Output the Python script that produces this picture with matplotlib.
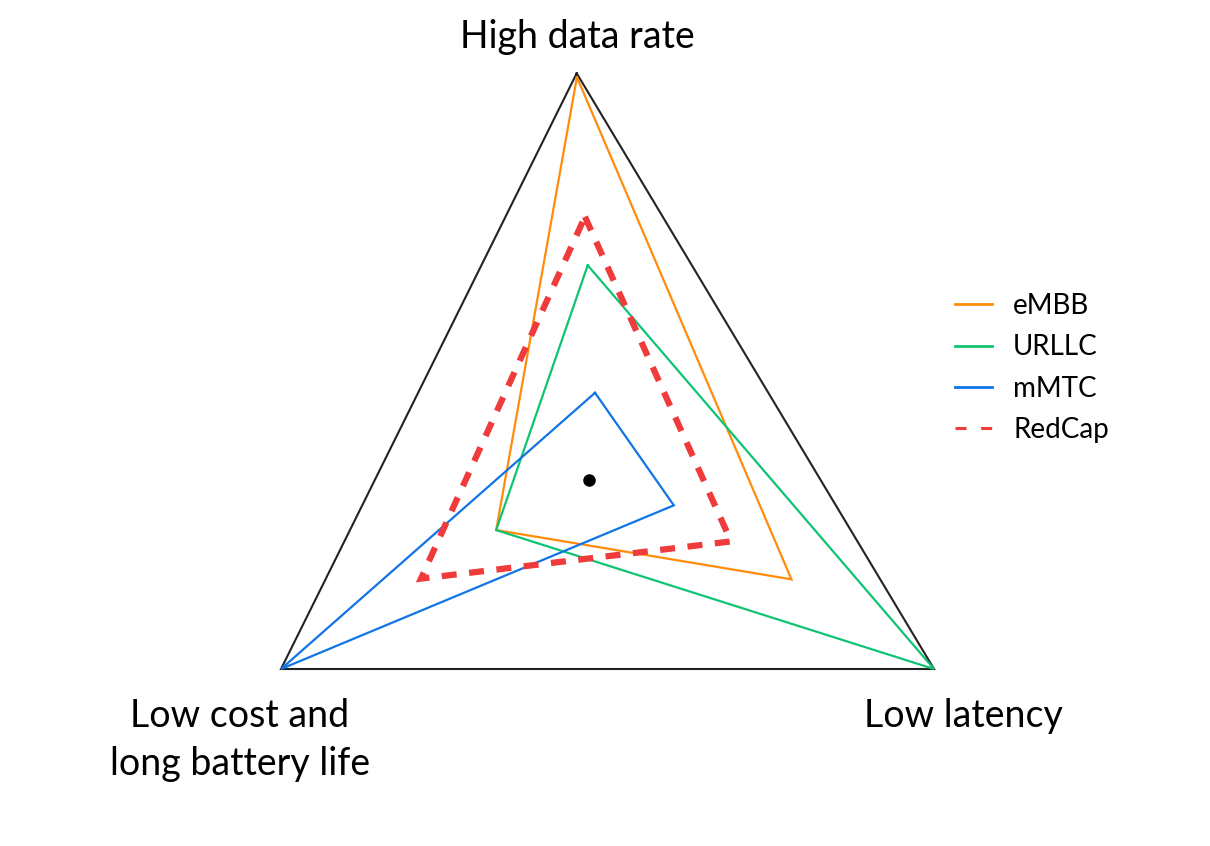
import numpy as np
import matplotlib
matplotlib.use("Agg")
import matplotlib.pyplot as plt
from matplotlib.lines import Line2D

# ---------------- data ----------------
categories = ["High data rate", "Low latency", "Low cost and\nlong battery life"]
series_names = ["eMBB", "URLLC", "mMTC", "RedCap"]
embb = [0.99, 0.577, 0.319]
urllc = [0.506, 1.00, 0.319]
mmtc = [0.178, 0.228, 1.00]
redcap = [0.631, 0.398, 0.557]
outer = [1.0, 1.0, 1.0]

# ---------------- layout (pixel-like coordinates) ----------------
W, H = 1210, 846
AXIS_ORIGINS = np.array([[599.0, 462.0],   # High data rate
                         [597.0, 457.0],   # Low latency
                         [597.0, 465.0]])  # Low cost
AXIS_ENDS = np.array([[576.7, 73.3],    # High data rate (top)
                      [934.0, 669.0],   # Low latency (bottom right)
                      [281.0, 669.0]])  # Low cost (bottom left)
DOT_XY = (589.3, 480.0)

colors = {"eMBB": "#FF8C0A", "URLLC": "#0FC373", "mMTC": "#1174E6", "RedCap": "#EF3B3B"}

plt.rcParams['font.family'] = ['Lato', 'DejaVu Sans']

fig = plt.figure(figsize=(W / 100, H / 100), dpi=100)
ax = fig.add_axes([0, 0, 1, 1])
ax.set_xlim(0, W)
ax.set_ylim(H, 0)
ax.axis("off")


def to_xy(vals):
    vals = np.asarray(vals, dtype=float)[:, None]
    pts = AXIS_ORIGINS + vals * (AXIS_ENDS - AXIS_ORIGINS)
    pts = np.vstack([pts, pts[:1]])
    return pts[:, 0], pts[:, 1]


x, y = to_xy(outer)
ax.plot(x, y, color="#222222", lw=1.5, solid_joinstyle="miter")

for name, vals in [("eMBB", embb), ("URLLC", urllc), ("mMTC", mmtc)]:
    x, y = to_xy(vals)
    ax.plot(x, y, color=colors[name], lw=1.6, solid_joinstyle="miter")

x, y = to_xy(redcap)
ax.plot(x, y, color=colors["RedCap"], lw=4.5, dashes=(2.4, 2.0),
        dash_capstyle="butt", dash_joinstyle="miter")

ax.plot([DOT_XY[0]], [DOT_XY[1]], "o", color="black", ms=8)

# axis labels
ax.text(577, 37, categories[0], ha="center", va="center", fontsize=27)
ax.text(963, 716, categories[1], ha="center", va="center", fontsize=27)
ax.text(240, 740, categories[2], ha="center", va="center", fontsize=27,
        linespacing=1.42)

handles = [Line2D([], [], color=colors["eMBB"], lw=2),
           Line2D([], [], color=colors["URLLC"], lw=2),
           Line2D([], [], color=colors["mMTC"], lw=2),
           Line2D([], [], color=colors["RedCap"], lw=2.2, dashes=(3.6, 4.8))]
leg = ax.legend(handles, series_names, loc="center left",
                bbox_to_anchor=(955 / W, 1 - 368 / H), frameon=False,
                fontsize=20, handlelength=1.33, handletextpad=0.76,
                labelspacing=0.55, borderpad=0, borderaxespad=0)

fig.savefig("out.png", dpi=100)
